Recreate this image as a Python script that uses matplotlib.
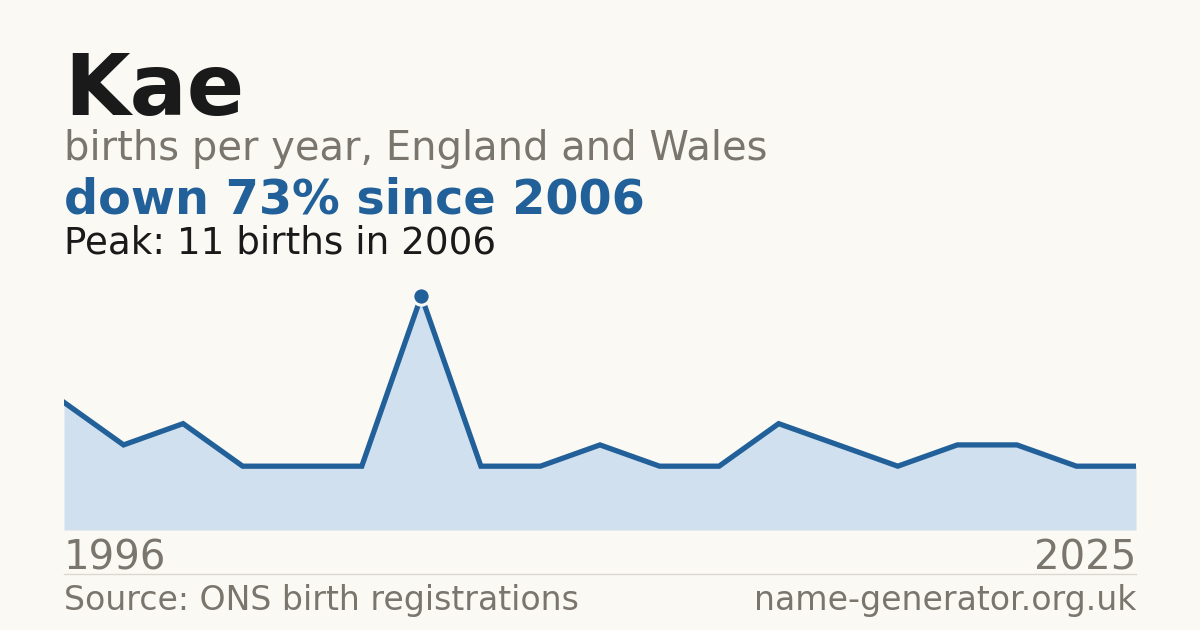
import matplotlib
matplotlib.use("Agg")
import matplotlib.pyplot as plt
import numpy as np

# births per year (only years with recorded births)
years = [1996, 1998, 2000, 2002, 2003, 2005, 2006, 2008, 2009, 2011,
         2012, 2014, 2015, 2017, 2018, 2020, 2022, 2023, 2025]
births = [6, 4, 5, 3, 3, 3, 11, 3, 3, 4, 3, 3, 5, 4, 3, 4, 4, 3, 3]

name = "Kae"
subtitle = "births per year, England and Wales"
headline = "down 73% since 2006"
peak_text = "Peak: 11 births in 2006"
source = "Source: ONS birth registrations"
site = "name-generator.org.uk"

bg = "#faf9f4"
blue = "#22609a"
fill = "#d0e0ef"
grey = "#7a766e"
dark = "#1a1a1a"

W, H = 1200, 630
fig = plt.figure(figsize=(W / 100, H / 100), dpi=100, facecolor=bg)


def px(x, y):
    return x / W, 1 - y / H


# chart area
left, right, bottom, top = 64, 1136, 530, 280
ax = fig.add_axes([left / W, 1 - bottom / H, (right - left) / W, (bottom - top) / H])
ax.set_facecolor(bg)
xs = np.arange(len(births))
peak = int(np.argmax(births))
ymax = max(births) * (bottom - top) / (bottom - 296)
ax.fill_between(xs, births, 0, color=fill, lw=0)
ax.plot(xs, births, color=blue, lw=3.8, solid_joinstyle="miter")
ax.plot(xs[peak], births[peak], "o", ms=12.5, color=blue, mec=bg, mew=2.2, clip_on=False)
ax.set_xlim(0, len(births) - 1)
ax.set_ylim(0, ymax)
ax.axis("off")
ax.axhline(0, color="#e6e0d4", lw=1)

# texts
fig.text(*px(64, 115), name, fontsize=61, fontweight="bold", color=dark, va="baseline")
fig.text(*px(64, 160), subtitle, fontsize=28.8, color=grey, va="baseline")
fig.text(*px(64, 214), headline, fontsize=34.4, fontweight="bold", color=blue, va="baseline")
fig.text(*px(64, 254), peak_text, fontsize=26.8, color=dark, va="baseline")
fig.text(*px(64, 570), str(years[0]), fontsize=28.9, color=grey, va="baseline")
fig.text(*px(1136, 570), str(years[-1]), fontsize=28.9, color=grey, va="baseline", ha="right")
fig.text(*px(64, 610), source, fontsize=23.9, color=grey, va="baseline")
fig.text(*px(1136, 610), site, fontsize=23.9, color=grey, va="baseline", ha="right")

line = plt.Line2D([64 / W, 1136 / W], [1 - 574 / H] * 2, transform=fig.transFigure,
                  color="#dcd8cf", lw=1)
fig.add_artist(line)

fig.savefig("out.png", dpi=100, facecolor=bg)
